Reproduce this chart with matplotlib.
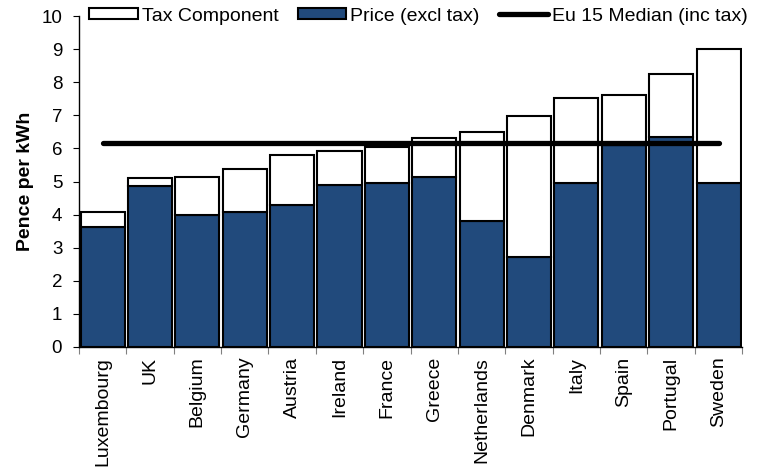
import matplotlib
matplotlib.use("Agg")
import matplotlib.pyplot as plt
import numpy as np

plt.rcParams['font.family'] = ['Liberation Sans', 'DejaVu Sans']

countries = ["Luxembourg", "UK", "Belgium", "Germany", "Austria", "Ireland", "France",
             "Greece", "Netherlands", "Denmark", "Italy", "Spain", "Portugal", "Sweden"]
price_excl_tax = [3.63, 4.87, 3.98, 4.08, 4.28, 4.91, 4.97, 5.13, 3.81, 2.72, 4.97, 6.10, 6.35, 4.97]
tax_component = [0.44, 0.25, 1.17, 1.31, 1.52, 1.01, 1.06, 1.20, 2.69, 4.26, 2.57, 1.51, 1.90, 4.05]
eu15_median = 6.18

navy = "#214a7c"

fig = plt.figure(figsize=(7.66, 4.74), dpi=100)
ax = fig.add_axes([0.103, 0.268, 0.866, 0.698])

x = np.arange(len(countries))
price_bars = ax.bar(x, price_excl_tax, width=0.93, color=navy, edgecolor="black",
                    linewidth=1.5, zorder=2)
tax_bars = ax.bar(x, tax_component, width=0.93, bottom=price_excl_tax, color="white",
                  edgecolor="black", linewidth=1.5, zorder=2)
median_line, = ax.plot(x, [eu15_median] * len(x), color="black", linewidth=3.8,
                       solid_capstyle="round", zorder=3)

ax.set_xlim(-0.5, len(countries) - 0.5)
ax.set_ylim(0, 10)
ax.set_yticks(range(0, 11))
ax.tick_params(axis="y", labelsize=13.5, direction="out", length=4, width=0.8, pad=8)

ax.set_xticks(x)
ax.set_xticklabels(countries, rotation=90, fontsize=14)
ax.tick_params(axis="x", which="major", length=0, pad=7)
ax.set_xticks(np.arange(-0.5, len(countries)), minor=True)
ax.tick_params(axis="x", which="minor", length=5, width=0.8, color="#808080")

for side in ("top", "right"):
    ax.spines[side].set_visible(False)
ax.spines["left"].set_linewidth(1.0)
ax.spines["bottom"].set_linewidth(1.0)

ax.set_ylabel("Pence per kWh", fontsize=14, fontweight="bold", labelpad=5)

fig.legend([tax_bars, price_bars, median_line],
           ["Tax Component", "Price (excl tax)", "Eu 15 Median (inc tax)"],
           loc="center", bbox_to_anchor=(0.546, 0.966), ncol=3, frameon=False,
           fontsize=14, handlelength=2.5, handleheight=0.5,
           handletextpad=0.2, columnspacing=1.0, borderaxespad=0)

fig.savefig("out.png", dpi=100)
